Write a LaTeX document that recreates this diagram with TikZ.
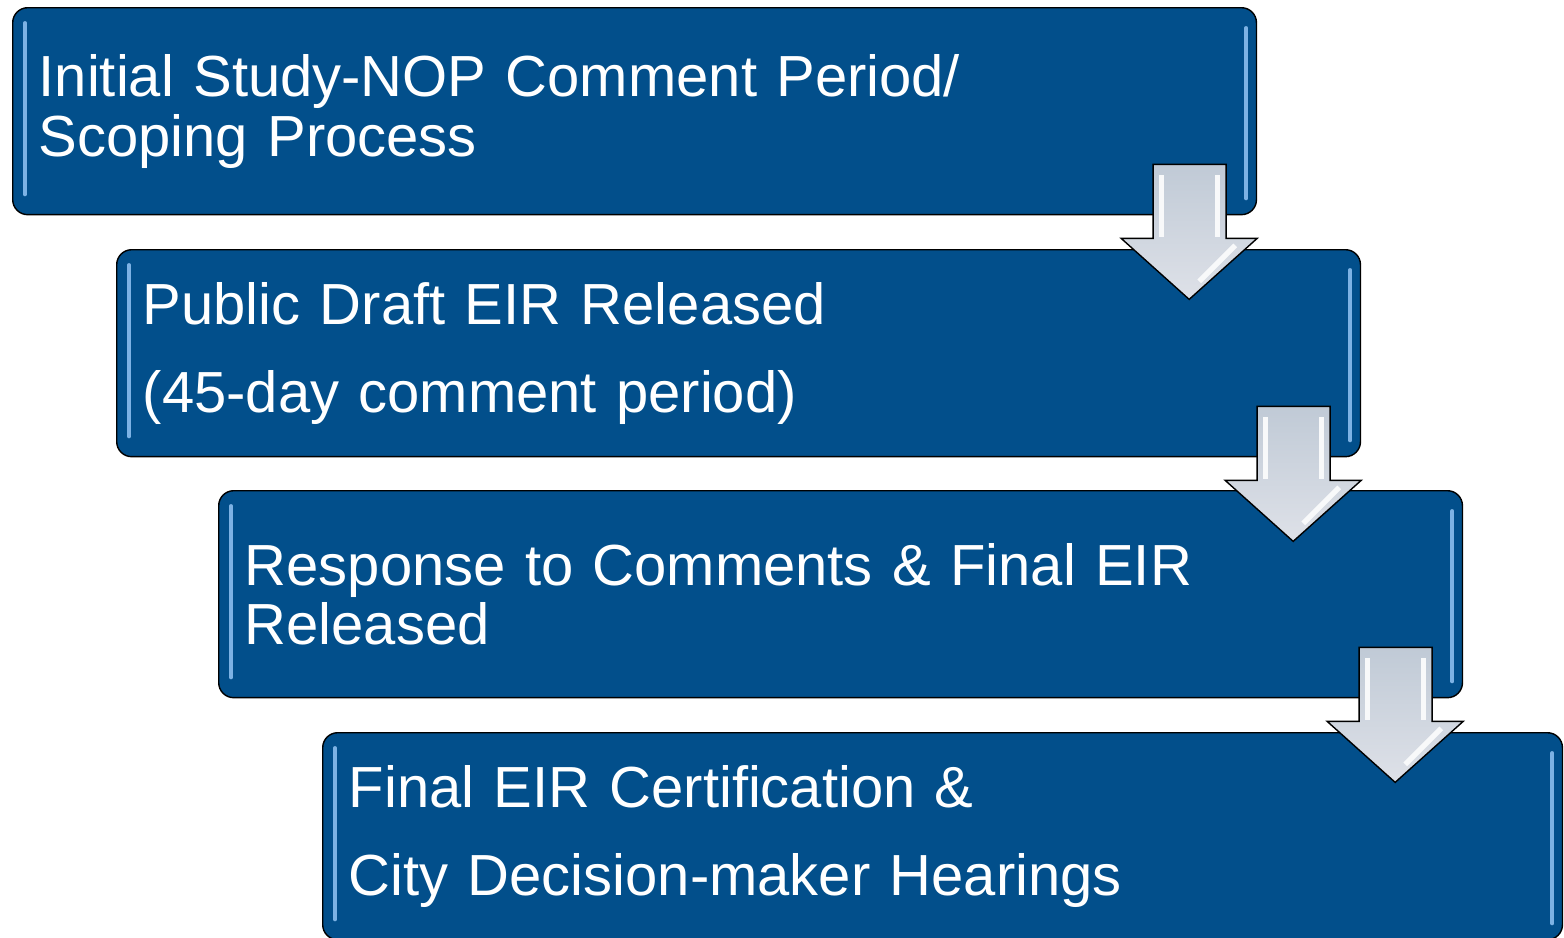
\documentclass[tikz,border=0pt]{standalone}
\usepackage{fontspec}
\setmainfont{Liberation Sans}
\usetikzlibrary{calc}
\definecolor{stepblue}{RGB}{2,79,139}
\definecolor{glossblue}{RGB}{125,178,228}
\definecolor{arrowtop}{RGB}{192,202,214}
\definecolor{arrowbot}{RGB}{222,225,232}

\begin{document}
\begin{tikzpicture}[x=0.02cm, y=-0.02cm,
  stage/.style={draw=black, line width=0.8pt, fill=stepblue, rounded corners=0.3cm, anchor=north west,
    minimum height=4.14cm, text width=23.84cm, inner xsep=0.52cm, inner ysep=0pt, align=left,
    text=white, font=\fontsize{33}{34}\selectfont},
  gloss/.style={glossblue, line width=2.2pt, line cap=round},
  blockarr/.style={draw=black, line width=0.8pt, top color=arrowtop, bottom color=arrowbot, line join=miter},
  shine/.style={white!80!arrowbot, line width=3pt},
]
\useasboundingbox (0,0) rectangle (1564,937);

% ===== stages =====
\node[stage] (initial) at (12,7) {Initial Study-NOP Comment Period/\\ Scoping Process};
\node[stage] (draft) at (116,249) {Public Draft EIR Released\\[16pt] (45-day comment period)};
\node[stage] (final) at (218,490) {Response to Comments \& Final EIR\\ Released};
\node[stage, text width=23.76cm] (hearings) at (322,732) {Final EIR Certification \&\\[16pt] City Decision-maker Hearings};

% glossy edges
\foreach \b in {initial,draft,final,hearings} {
  \draw[gloss] ($(\b.north west)+(13,16)$) -- ($(\b.south west)+(13,-21)$);
  \draw[gloss] ($(\b.north east)+(-11,21)$) -- ($(\b.south east)+(-11,-17)$);
}

% ===== down arrows between stages =====
\foreach \a in {initial,draft,final} {
  \begin{scope}[shift={(\a.south east)}]
    \draw[blockarr] (-104,-51) -- (-31,-51) -- (-31,23) -- (0,23) -- (-68,84) -- (-136,23) -- (-104,23) -- cycle;
    \draw[shine] (-96,-40) -- (-96,22);
    \draw[shine] (-40,-40) -- (-40,22);
    \draw[shine] (-22,30) -- (-58,66);
  \end{scope}
}

\end{tikzpicture}
\end{document}
